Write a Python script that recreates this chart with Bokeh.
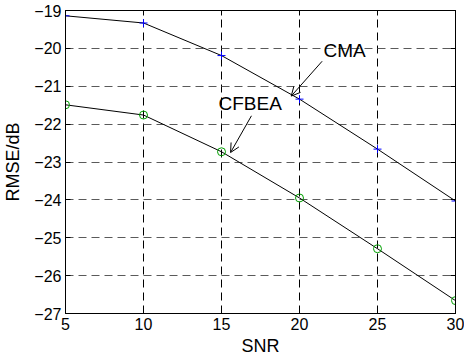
from bokeh.plotting import figure
from bokeh.models import LinearAxis, Arrow, OpenHead, Label, Range1d, FixedTicker, CustomJSTickFormatter
from bokeh.embed import file_html
from bokeh.resources import INLINE

snr = [5, 10, 15, 20, 25, 30]
cma = [-19.14, -19.33, -20.19, -21.34, -22.66, -24.03]
cfbea = [-21.49, -21.76, -22.73, -23.95, -25.29, -26.66]
x_ticks = [5, 10, 15, 20, 25, 30]
y_ticks = [-27, -26, -25, -24, -23, -22, -21, -20, -19]

# annotation positions (data coords)
cma_label = (21.54, -20.06)
cma_arrow = (21.45, -20.34, 19.47, -21.26)
cfbea_label = (14.81, -21.46)
cfbea_arrow = (16.92, -21.78, 15.58, -22.75)

FONT = "Liberation Sans"

p = figure(width=464, height=358, output_backend="svg", toolbar_location=None,
           x_range=Range1d(5, 30), y_range=Range1d(-27, -19),
           min_border_left=65, min_border_right=9, min_border_top=10, min_border_bottom=45)
p.background_fill_color = "white"
p.border_fill_color = "white"
p.outline_line_color = "black"
p.outline_line_width = 1

for ax in (p.xaxis[0], p.yaxis[0]):
    ax.major_tick_in = 5
    ax.major_tick_out = 0
    ax.minor_tick_in = 0
    ax.minor_tick_out = 0
    ax.axis_line_color = "black"
    ax.major_tick_line_color = "black"
    ax.major_label_text_font = FONT
    ax.major_label_text_font_size = "16px"
    ax.major_label_text_color = "black"
    ax.axis_label_text_font = FONT
    ax.axis_label_text_font_size = "18px"
    ax.axis_label_text_font_style = "normal"
    ax.axis_label_text_color = "black"

p.xaxis[0].ticker = FixedTicker(ticks=x_ticks)
p.yaxis[0].ticker = FixedTicker(ticks=y_ticks)
p.xaxis[0].axis_label = "SNR"
p.yaxis[0].axis_label = "RMSE/dB"
p.xaxis[0].major_label_standoff = 4
p.xaxis[0].axis_label_standoff = 3
p.yaxis[0].major_label_standoff = 4
p.yaxis[0].axis_label_standoff = 8

blank = CustomJSTickFormatter(code="return ''")
top = LinearAxis(ticker=FixedTicker(ticks=x_ticks), major_tick_in=5, major_tick_out=0,
                 minor_tick_in=0, minor_tick_out=0, major_label_text_font_size="1px",
                 major_label_standoff=0, axis_line_color="black", formatter=blank)
right = LinearAxis(ticker=FixedTicker(ticks=y_ticks), major_tick_in=5, major_tick_out=0,
                   minor_tick_in=0, minor_tick_out=0, major_label_text_font_size="1px",
                   major_label_standoff=0, axis_line_color="black", formatter=blank)
p.add_layout(top, "above")
p.add_layout(right, "right")

p.xgrid.ticker = FixedTicker(ticks=x_ticks)
p.ygrid.ticker = FixedTicker(ticks=y_ticks)
p.xgrid[0].grid_line_color = "black"
p.ygrid[0].grid_line_color = "#5a5a5a"
for g in (p.xgrid[0], p.ygrid[0]):
    g.grid_line_dash = "8 5"
    g.grid_line_width = 1

p.line(snr, cma, line_color="black", line_width=1)
p.scatter(snr, cma, marker="cross", size=8, line_color="#0000ff", line_width=1)
p.line(snr, cfbea, line_color="black", line_width=1)
p.scatter(snr, cfbea, marker="circle", size=8, line_color="#00a000", fill_color=None, line_width=1)

p.add_layout(Label(x=cma_label[0], y=cma_label[1], text="CMA", text_font=FONT,
                   text_font_size="19px", text_baseline="middle", text_color="black"))
p.add_layout(Label(x=cfbea_label[0], y=cfbea_label[1], text="CFBEA", text_font=FONT,
                   text_font_size="19px", text_baseline="middle", text_color="black"))
p.add_layout(Arrow(x_start=cma_arrow[0], y_start=cma_arrow[1], x_end=cma_arrow[2], y_end=cma_arrow[3],
                   line_color="black", line_width=1,
                   end=OpenHead(size=9, line_color="black", line_width=1)))
p.add_layout(Arrow(x_start=cfbea_arrow[0], y_start=cfbea_arrow[1], x_end=cfbea_arrow[2], y_end=cfbea_arrow[3],
                   line_color="black", line_width=1,
                   end=OpenHead(size=9, line_color="black", line_width=1)))

open("out.html", "w").write(file_html(p, INLINE))
